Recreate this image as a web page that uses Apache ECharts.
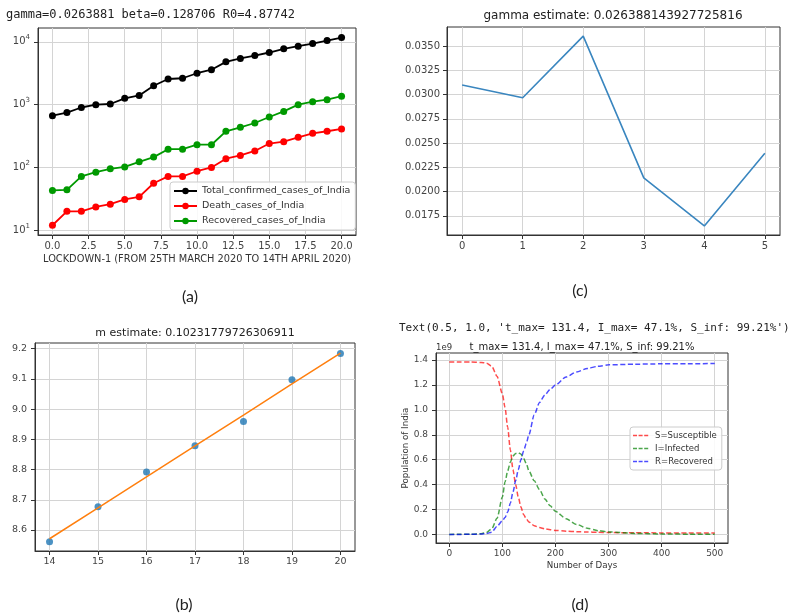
<!DOCTYPE html>
<html><head><meta charset="utf-8">
<script src="https://cdn.jsdelivr.net/npm/echarts@6/dist/echarts.min.js"></script>
<style>html,body{margin:0;padding:0;background:#fff}#c{width:796px;height:613px}</style>
</head><body><div id="c"></div>
<script>
// ---------- (a) lockdown cases (log scale) ----------
const lockdownDays = [0,1,2,3,4,5,6,7,8,9,10,11,12,13,14,15,16,17,18,19,20];
const totalConfirmed = [668,746,900,1000,1024,1260,1400,2000,2560,2630,3160,3600,4800,5430,6040,6760,7740,8520,9400,10450,11700];
const deathCases = [12,20,20,23.5,26,31,34,56,72,72,87,100,138,155,183,240,257,302,350,377,410];
const recoveredCases = [43,44,72,84,95,102,123,146,195,195,230,230,376,436,510,635,780,1000,1115,1200,1360];
const aXTicks = [0,2.5,5,7.5,10,12.5,15,17.5,20];
const aYTicks = [10,100,1000,10000];

// ---------- (c) gamma estimate ----------
const gammaIndex = [0,1,2,3,4,5];
const gammaValues = [0.0310,0.02968,0.03604,0.02142,0.01646,0.02396];
const cXTicks = [0,1,2,3,4,5];
const cYTicks = [0.0175,0.0200,0.0225,0.0250,0.0275,0.0300,0.0325,0.0350];

// ---------- (b) m estimate ----------
const bDays = [14,15,16,17,18,19,20];
const bLogCases = [8.561,8.677,8.792,8.879,8.959,9.097,9.184];
const bFit = [8.571,8.673,8.776,8.878,8.980,9.083,9.185];
const bXTicks = [14,15,16,17,18,19,20];
const bYTicks = [8.6,8.7,8.8,8.9,9.0,9.1,9.2];

// ---------- (d) SIR model (units of 1e9) ----------
const sirDays = [0,20,40,60,70,80,90,100,105,110,115,120,125,130,135,140,145,150,160,170,180,190,200,220,240,260,280,300,350,400,450,500];
const susceptible = [1.384,1.384,1.384,1.381,1.376,1.35,1.27,1.13,1.02,0.86,0.68,0.52,0.40,0.30,0.22,0.16,0.125,0.10,0.07,0.055,0.045,0.038,0.032,0.026,0.022,0.019,0.017,0.015,0.013,0.012,0.011,0.011];
const infected = [0.0002,0.0005,0.0015,0.006,0.016,0.045,0.13,0.30,0.42,0.51,0.58,0.63,0.65,0.655,0.645,0.61,0.57,0.51,0.43,0.36,0.285,0.23,0.185,0.126,0.08,0.05,0.03,0.02,0.008,0.004,0.002,0.001];
const recovered = [0,0.0002,0.0008,0.003,0.007,0.018,0.065,0.11,0.135,0.18,0.25,0.34,0.43,0.52,0.60,0.67,0.73,0.80,0.96,1.06,1.12,1.165,1.20,1.265,1.305,1.333,1.35,1.362,1.367,1.37,1.371,1.372];
const dXTicks = [0,100,200,300,400,500];
const dYTicks = [0,0.2,0.4,0.6,0.8,1.0,1.2,1.4];

const F = 'DejaVu Sans';
const MONO = 'DejaVu Sans Mono';
const GRIDC = '#d4d4d4';
const DASH_ICON = 'path://M0,0h5v2h-5z M7,0h5v2h-5z M14,0h5v2h-5z';
function xy(xs, ys) { return xs.map((x, i) => [x, ys[i]]); }
function axis(gridIndex, type, min, max, ticks, fmt, fontSize, margin, extra) {
  return Object.assign({
    gridIndex, type, min, max,
    axisLine: { show: true, onZero: false, lineStyle: { color: '#333', width: 1 } },
    axisTick: { show: true, inside: false, length: 4, customValues: ticks, lineStyle: { color: '#333' } },
    axisLabel: { show: true, customValues: ticks, formatter: fmt, fontSize, color: '#444', fontFamily: F, margin },
    splitLine: { show: true, lineStyle: { color: GRIDC, width: 1 } },
    minorTick: { show: false }, minorSplitLine: { show: false }
  }, extra || {});
}
const gridBase = { show: true, borderColor: '#333', borderWidth: 1, backgroundColor: '#fff', containLabel: false, outerBoundsMode: 'none' };

const option = {
  animation: false,
  backgroundColor: '#fff',
  grid: [
    Object.assign({ left: 38, top: 28, width: 318, height: 207 }, gridBase),
    Object.assign({ left: 447, top: 27, width: 333, height: 208 }, gridBase),
    Object.assign({ left: 35, top: 343, width: 320, height: 208 }, gridBase),
    Object.assign({ left: 436, top: 353, width: 292, height: 190 }, gridBase)
  ],
  xAxis: [
    axis(0, 'value', -1, 21, aXTicks, v => v.toFixed(1), 10, 6, {
      name: 'LOCKDOWN-1 (FROM 25TH MARCH 2020 TO 14TH APRIL 2020)', nameLocation: 'middle', nameGap: 19,
      nameTextStyle: { fontFamily: F, fontSize: 9.8, color: '#333' }
    }),
    axis(1, 'value', -0.25, 5.25, cXTicks, v => String(v), 10, 6),
    axis(2, 'value', 13.7, 20.3, bXTicks, v => String(v), 9.5, 6),
    axis(3, 'value', -25, 525, dXTicks, v => String(v), 9, 6, {
      name: 'Number of Days', nameLocation: 'middle', nameGap: 18,
      nameTextStyle: { fontFamily: F, fontSize: 8.7, color: '#333' }
    })
  ],
  yAxis: [
    axis(0, 'log', 8.4, 16600, aYTicks, null, 10, 8, {
      logBase: 10,
      axisLabel: {
        show: true, customValues: aYTicks, color: '#444', fontFamily: F, margin: 8,
        formatter: v => '{b|10}{s|' + Math.round(Math.log10(v)) + '}',
        rich: { b: { fontSize: 10, fontFamily: F, color: '#444', lineHeight: 16 }, s: { fontSize: 7, fontFamily: F, color: '#444', lineHeight: 16, verticalAlign: 'top' } }
      }
    }),
    axis(1, 'value', 0.015525, 0.036975, cYTicks, v => v.toFixed(4), 10, 7),
    axis(2, 'value', 8.5305, 9.2185, bYTicks, v => v.toFixed(1), 9.5, 8),
    axis(3, 'value', -0.069, 1.457, dYTicks, v => v.toFixed(1), 9, 8, {
      name: 'Population of India', nameLocation: 'middle', nameGap: 26, nameRotate: 90,
      nameTextStyle: { fontFamily: F, fontSize: 8.7, color: '#333' }
    })
  ],
  legend: [
    {
      data: ['Total_confirmed_cases_of_India', 'Death_cases_of_India', 'Recovered_cases_of_India'],
      orient: 'vertical', left: 170, top: 182, itemWidth: 23, itemHeight: 8, itemGap: 3,
      padding: [3, 5, 3, 3], borderColor: '#ccc', borderWidth: 1, borderRadius: 3,
      backgroundColor: 'rgba(255,255,255,0.85)', selectedMode: false,
      textStyle: { fontFamily: F, fontSize: 9.5, color: '#333', lineHeight: 12 }
    },
    {
      data: [
        { name: 'S=Susceptible', icon: DASH_ICON },
        { name: 'I=Infected', icon: DASH_ICON },
        { name: 'R=Recovered', icon: DASH_ICON }
      ],
      orient: 'vertical', left: 630, top: 427, itemWidth: 19, itemHeight: 1.6, itemGap: 2,
      padding: [3, 5, 3, 3], borderColor: '#ccc', borderWidth: 1, borderRadius: 3,
      backgroundColor: 'rgba(255,255,255,0.85)', selectedMode: false,
      textStyle: { fontFamily: F, fontSize: 8.5, color: '#333', lineHeight: 11 }
    }
  ],
  series: [
    { type: 'line', name: 'Total_confirmed_cases_of_India', xAxisIndex: 0, yAxisIndex: 0, data: xy(lockdownDays, totalConfirmed),
      symbol: 'circle', symbolSize: 7, lineStyle: { color: '#000', width: 1.8 }, itemStyle: { color: '#000' } },
    { type: 'line', name: 'Death_cases_of_India', xAxisIndex: 0, yAxisIndex: 0, data: xy(lockdownDays, deathCases),
      symbol: 'circle', symbolSize: 7, lineStyle: { color: '#ff0000', width: 1.8 }, itemStyle: { color: '#ff0000' } },
    { type: 'line', name: 'Recovered_cases_of_India', xAxisIndex: 0, yAxisIndex: 0, data: xy(lockdownDays, recoveredCases),
      symbol: 'circle', symbolSize: 7, lineStyle: { color: '#009900', width: 1.8 }, itemStyle: { color: '#009900' } },

    { type: 'line', name: 'gamma', xAxisIndex: 1, yAxisIndex: 1, data: xy(gammaIndex, gammaValues),
      symbol: 'none', lineStyle: { color: '#3a86bf', width: 1.6 } },

    { type: 'scatter', name: 'points', xAxisIndex: 2, yAxisIndex: 2, data: xy(bDays, bLogCases),
      symbol: 'circle', symbolSize: 7, itemStyle: { color: '#1f77b4' } },
    { type: 'line', name: 'fit', xAxisIndex: 2, yAxisIndex: 2, data: xy(bDays, bFit),
      symbol: 'none', lineStyle: { color: '#ff7f0e', width: 1.5 } },

    { type: 'line', name: 'S=Susceptible', xAxisIndex: 3, yAxisIndex: 3, data: xy(sirDays, susceptible),
      symbol: 'none', smooth: 0.25, smoothMonotone: 'x', lineStyle: { color: 'rgba(255,0,0,0.7)', width: 1.5, type: [5, 2.5] }, itemStyle: { color: 'rgba(255,0,0,0.7)' } },
    { type: 'line', name: 'I=Infected', xAxisIndex: 3, yAxisIndex: 3, data: xy(sirDays, infected),
      symbol: 'none', smooth: 0.25, smoothMonotone: 'x', lineStyle: { color: 'rgba(0,128,0,0.7)', width: 1.5, type: [5, 2.5] }, itemStyle: { color: 'rgba(0,128,0,0.7)' } },
    { type: 'line', name: 'R=Recovered', xAxisIndex: 3, yAxisIndex: 3, data: xy(sirDays, recovered),
      symbol: 'none', smooth: 0.25, smoothMonotone: 'x', lineStyle: { color: 'rgba(0,0,255,0.7)', width: 1.5, type: [5, 2.5] }, itemStyle: { color: 'rgba(0,0,255,0.7)' } }
  ],
  graphic: [
    { type: 'text', x: 6, y: 15, style: { text: 'gamma=0.0263881 beta=0.128706 R0=4.87742', font: '12px ' + MONO, fill: '#222', textAlign: 'left', textVerticalAlign: 'middle' } },
    { type: 'text', x: 613, y: 16, style: { text: 'gamma estimate: 0.026388143927725816', font: '12px ' + F, fill: '#222', textAlign: 'center', textVerticalAlign: 'middle' } },
    { type: 'text', x: 195, y: 333, style: { text: 'm estimate: 0.10231779726306911', font: '11px ' + F, fill: '#222', textAlign: 'center', textVerticalAlign: 'middle' } },
    { type: 'text', x: 399, y: 328, style: { text: "Text(0.5, 1.0, 't_max= 131.4, I_max= 47.1%, S_inf: 99.21%')", font: '11px ' + MONO, fill: '#222', textAlign: 'left', textVerticalAlign: 'middle' } },
    { type: 'text', x: 582, y: 347, style: { text: 't_max= 131.4, I_max= 47.1%, S_inf: 99.21%', font: '10px ' + F, fill: '#222', textAlign: 'center', textVerticalAlign: 'middle' } },
    { type: 'text', x: 436, y: 348, style: { text: '1e9', font: '8.5px ' + F, fill: '#333', textAlign: 'left', textVerticalAlign: 'middle' } },
    { type: 'text', x: 190, y: 297, style: { text: '(a)', font: '16px Lato', fill: '#222', textAlign: 'center', textVerticalAlign: 'middle' } },
    { type: 'text', x: 580, y: 291, style: { text: '(c)', font: '16px Lato', fill: '#222', textAlign: 'center', textVerticalAlign: 'middle' } },
    { type: 'text', x: 184, y: 605, style: { text: '(b)', font: '16px Lato', fill: '#222', textAlign: 'center', textVerticalAlign: 'middle' } },
    { type: 'text', x: 580, y: 605, style: { text: '(d)', font: '16px Lato', fill: '#222', textAlign: 'center', textVerticalAlign: 'middle' } }
  ]
};
const chart = echarts.init(document.getElementById('c'));
chart.setOption(option);
</script>
</body></html>
